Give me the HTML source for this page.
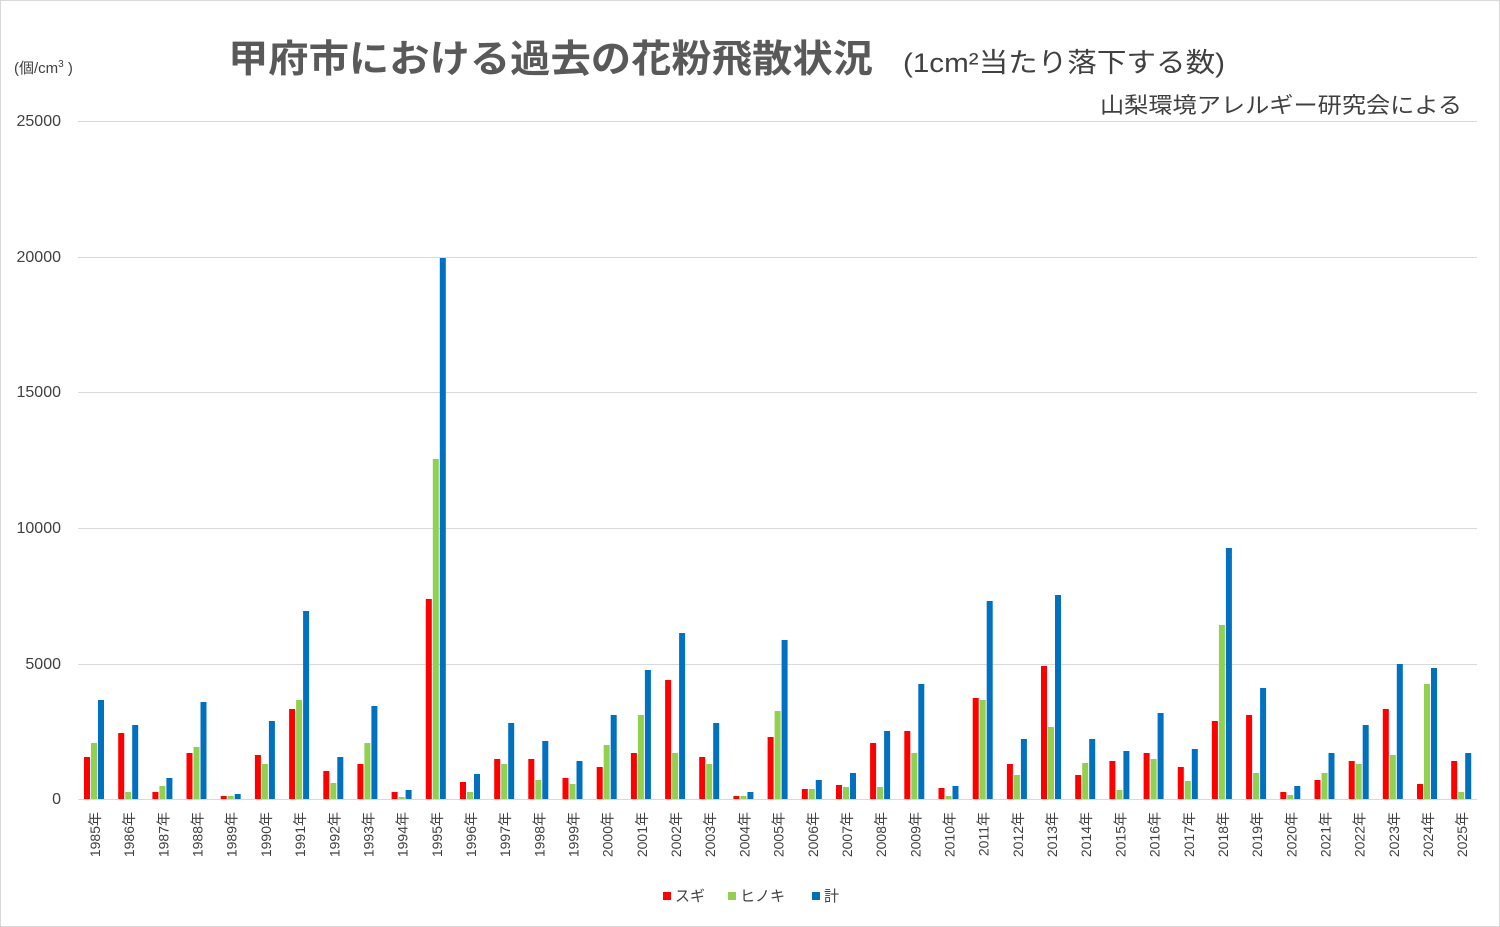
<!DOCTYPE html>
<html><head><meta charset="utf-8"><style>
body{margin:0;background:#fff}
svg{display:block;font-family:"Liberation Sans","Noto Sans CJK JP",sans-serif}
.r{fill:#ff0000}.g{fill:#92d050}.b{fill:#0070c0}
.yl{font-size:16px;fill:#404040}
.xl{font-size:14px;fill:#404040}
</style></head><body>
<svg width="1500" height="927" viewBox="0 0 1500 927">
<rect x="0.5" y="0.5" width="1499" height="926" fill="#fff" stroke="#d9d9d9"/>
<text x="14" y="73" font-size="15" fill="#404040">(個/cm<tspan font-size="10" dy="-6">3</tspan><tspan dy="6"> )</tspan></text>
<text x="228" y="72" font-size="38" font-weight="bold" fill="#595959" textLength="645" lengthAdjust="spacingAndGlyphs">甲府市における過去の花粉飛散状況</text>
<text x="903" y="72" font-size="27" fill="#404040" textLength="322" lengthAdjust="spacingAndGlyphs">(1cm²当たり落下する数)</text>
<text x="1100" y="113" font-size="22" fill="#404040" textLength="362" lengthAdjust="spacingAndGlyphs">山梨環境アレルギー研究会による</text>
<g stroke="#d9d9d9" stroke-width="1">
<line x1="78" y1="121.5" x2="1477" y2="121.5"/><line x1="78" y1="257.5" x2="1477" y2="257.5"/><line x1="78" y1="392.5" x2="1477" y2="392.5"/><line x1="78" y1="528.5" x2="1477" y2="528.5"/><line x1="78" y1="664.5" x2="1477" y2="664.5"/><line x1="78" y1="799.5" x2="1477" y2="799.5"/>
</g>
<g class="yl" text-anchor="end">
<text x="61" y="126">25000</text><text x="61" y="262">20000</text><text x="61" y="397">15000</text><text x="61" y="533">10000</text><text x="61" y="669">5000</text><text x="61" y="804">0</text>
</g>
<g class="xl">
<g transform="translate(95,0)"><rect class="r" x="-11" y="757" width="6" height="42"/><rect class="g" x="-4" y="743" width="6" height="56"/><rect class="b" x="3" y="700" width="6" height="99"/><text transform="translate(5,812) rotate(-90)" text-anchor="end">1985年</text></g>
<g transform="translate(129.2,0)"><rect class="r" x="-11" y="733" width="6" height="66"/><rect class="g" x="-4" y="792" width="6" height="7"/><rect class="b" x="3" y="725" width="6" height="74"/><text transform="translate(5,812) rotate(-90)" text-anchor="end">1986年</text></g>
<g transform="translate(163.4,0)"><rect class="r" x="-11" y="792" width="6" height="7"/><rect class="g" x="-4" y="786" width="6" height="13"/><rect class="b" x="3" y="778" width="6" height="21"/><text transform="translate(5,812) rotate(-90)" text-anchor="end">1987年</text></g>
<g transform="translate(197.5,0)"><rect class="r" x="-11" y="753" width="6" height="46"/><rect class="g" x="-4" y="747" width="6" height="52"/><rect class="b" x="3" y="702" width="6" height="97"/><text transform="translate(5,812) rotate(-90)" text-anchor="end">1988年</text></g>
<g transform="translate(231.7,0)"><rect class="r" x="-11" y="796" width="6" height="3"/><rect class="g" x="-4" y="796" width="6" height="3"/><rect class="b" x="3" y="794" width="6" height="5"/><text transform="translate(5,812) rotate(-90)" text-anchor="end">1989年</text></g>
<g transform="translate(265.9,0)"><rect class="r" x="-11" y="755" width="6" height="44"/><rect class="g" x="-4" y="764" width="6" height="35"/><rect class="b" x="3" y="721" width="6" height="78"/><text transform="translate(5,812) rotate(-90)" text-anchor="end">1990年</text></g>
<g transform="translate(300.1,0)"><rect class="r" x="-11" y="709" width="6" height="90"/><rect class="g" x="-4" y="700" width="6" height="99"/><rect class="b" x="3" y="611" width="6" height="188"/><text transform="translate(5,812) rotate(-90)" text-anchor="end">1991年</text></g>
<g transform="translate(334.3,0)"><rect class="r" x="-11" y="771" width="6" height="28"/><rect class="g" x="-4" y="783" width="6" height="16"/><rect class="b" x="3" y="757" width="6" height="42"/><text transform="translate(5,812) rotate(-90)" text-anchor="end">1992年</text></g>
<g transform="translate(368.4,0)"><rect class="r" x="-11" y="764" width="6" height="35"/><rect class="g" x="-4" y="743" width="6" height="56"/><rect class="b" x="3" y="706" width="6" height="93"/><text transform="translate(5,812) rotate(-90)" text-anchor="end">1993年</text></g>
<g transform="translate(402.6,0)"><rect class="r" x="-11" y="792" width="6" height="7"/><rect class="g" x="-4" y="797" width="6" height="2"/><rect class="b" x="3" y="790" width="6" height="9"/><text transform="translate(5,812) rotate(-90)" text-anchor="end">1994年</text></g>
<g transform="translate(436.8,0)"><rect class="r" x="-11" y="599" width="6" height="200"/><rect class="g" x="-4" y="459" width="6" height="340"/><rect class="b" x="3" y="258" width="6" height="541"/><text transform="translate(5,812) rotate(-90)" text-anchor="end">1995年</text></g>
<g transform="translate(471,0)"><rect class="r" x="-11" y="782" width="6" height="17"/><rect class="g" x="-4" y="792" width="6" height="7"/><rect class="b" x="3" y="774" width="6" height="25"/><text transform="translate(5,812) rotate(-90)" text-anchor="end">1996年</text></g>
<g transform="translate(505.2,0)"><rect class="r" x="-11" y="759" width="6" height="40"/><rect class="g" x="-4" y="764" width="6" height="35"/><rect class="b" x="3" y="723" width="6" height="76"/><text transform="translate(5,812) rotate(-90)" text-anchor="end">1997年</text></g>
<g transform="translate(539.3,0)"><rect class="r" x="-11" y="759" width="6" height="40"/><rect class="g" x="-4" y="780" width="6" height="19"/><rect class="b" x="3" y="741" width="6" height="58"/><text transform="translate(5,812) rotate(-90)" text-anchor="end">1998年</text></g>
<g transform="translate(573.5,0)"><rect class="r" x="-11" y="778" width="6" height="21"/><rect class="g" x="-4" y="784" width="6" height="15"/><rect class="b" x="3" y="761" width="6" height="38"/><text transform="translate(5,812) rotate(-90)" text-anchor="end">1999年</text></g>
<g transform="translate(607.7,0)"><rect class="r" x="-11" y="767" width="6" height="32"/><rect class="g" x="-4" y="745" width="6" height="54"/><rect class="b" x="3" y="715" width="6" height="84"/><text transform="translate(5,812) rotate(-90)" text-anchor="end">2000年</text></g>
<g transform="translate(641.9,0)"><rect class="r" x="-11" y="753" width="6" height="46"/><rect class="g" x="-4" y="715" width="6" height="84"/><rect class="b" x="3" y="670" width="6" height="129"/><text transform="translate(5,812) rotate(-90)" text-anchor="end">2001年</text></g>
<g transform="translate(676.1,0)"><rect class="r" x="-11" y="680" width="6" height="119"/><rect class="g" x="-4" y="753" width="6" height="46"/><rect class="b" x="3" y="633" width="6" height="166"/><text transform="translate(5,812) rotate(-90)" text-anchor="end">2002年</text></g>
<g transform="translate(710.2,0)"><rect class="r" x="-11" y="757" width="6" height="42"/><rect class="g" x="-4" y="764" width="6" height="35"/><rect class="b" x="3" y="723" width="6" height="76"/><text transform="translate(5,812) rotate(-90)" text-anchor="end">2003年</text></g>
<g transform="translate(744.4,0)"><rect class="r" x="-11" y="796" width="6" height="3"/><rect class="g" x="-4" y="796" width="6" height="3"/><rect class="b" x="3" y="792" width="6" height="7"/><text transform="translate(5,812) rotate(-90)" text-anchor="end">2004年</text></g>
<g transform="translate(778.6,0)"><rect class="r" x="-11" y="737" width="6" height="62"/><rect class="g" x="-4" y="711" width="6" height="88"/><rect class="b" x="3" y="640" width="6" height="159"/><text transform="translate(5,812) rotate(-90)" text-anchor="end">2005年</text></g>
<g transform="translate(812.8,0)"><rect class="r" x="-11" y="789" width="6" height="10"/><rect class="g" x="-4" y="789" width="6" height="10"/><rect class="b" x="3" y="780" width="6" height="19"/><text transform="translate(5,812) rotate(-90)" text-anchor="end">2006年</text></g>
<g transform="translate(847,0)"><rect class="r" x="-11" y="785" width="6" height="14"/><rect class="g" x="-4" y="787" width="6" height="12"/><rect class="b" x="3" y="773" width="6" height="26"/><text transform="translate(5,812) rotate(-90)" text-anchor="end">2007年</text></g>
<g transform="translate(881.1,0)"><rect class="r" x="-11" y="743" width="6" height="56"/><rect class="g" x="-4" y="787" width="6" height="12"/><rect class="b" x="3" y="731" width="6" height="68"/><text transform="translate(5,812) rotate(-90)" text-anchor="end">2008年</text></g>
<g transform="translate(915.3,0)"><rect class="r" x="-11" y="731" width="6" height="68"/><rect class="g" x="-4" y="753" width="6" height="46"/><rect class="b" x="3" y="684" width="6" height="115"/><text transform="translate(5,812) rotate(-90)" text-anchor="end">2009年</text></g>
<g transform="translate(949.5,0)"><rect class="r" x="-11" y="788" width="6" height="11"/><rect class="g" x="-4" y="796" width="6" height="3"/><rect class="b" x="3" y="786" width="6" height="13"/><text transform="translate(5,812) rotate(-90)" text-anchor="end">2010年</text></g>
<g transform="translate(983.7,0)"><rect class="r" x="-11" y="698" width="6" height="101"/><rect class="g" x="-4" y="700" width="6" height="99"/><rect class="b" x="3" y="601" width="6" height="198"/><text transform="translate(5,812) rotate(-90)" text-anchor="end">2011年</text></g>
<g transform="translate(1017.9,0)"><rect class="r" x="-11" y="764" width="6" height="35"/><rect class="g" x="-4" y="775" width="6" height="24"/><rect class="b" x="3" y="739" width="6" height="60"/><text transform="translate(5,812) rotate(-90)" text-anchor="end">2012年</text></g>
<g transform="translate(1052,0)"><rect class="r" x="-11" y="666" width="6" height="133"/><rect class="g" x="-4" y="727" width="6" height="72"/><rect class="b" x="3" y="595" width="6" height="204"/><text transform="translate(5,812) rotate(-90)" text-anchor="end">2013年</text></g>
<g transform="translate(1086.2,0)"><rect class="r" x="-11" y="775" width="6" height="24"/><rect class="g" x="-4" y="763" width="6" height="36"/><rect class="b" x="3" y="739" width="6" height="60"/><text transform="translate(5,812) rotate(-90)" text-anchor="end">2014年</text></g>
<g transform="translate(1120.4,0)"><rect class="r" x="-11" y="761" width="6" height="38"/><rect class="g" x="-4" y="790" width="6" height="9"/><rect class="b" x="3" y="751" width="6" height="48"/><text transform="translate(5,812) rotate(-90)" text-anchor="end">2015年</text></g>
<g transform="translate(1154.6,0)"><rect class="r" x="-11" y="753" width="6" height="46"/><rect class="g" x="-4" y="759" width="6" height="40"/><rect class="b" x="3" y="713" width="6" height="86"/><text transform="translate(5,812) rotate(-90)" text-anchor="end">2016年</text></g>
<g transform="translate(1188.8,0)"><rect class="r" x="-11" y="767" width="6" height="32"/><rect class="g" x="-4" y="781" width="6" height="18"/><rect class="b" x="3" y="749" width="6" height="50"/><text transform="translate(5,812) rotate(-90)" text-anchor="end">2017年</text></g>
<g transform="translate(1222.9,0)"><rect class="r" x="-11" y="721" width="6" height="78"/><rect class="g" x="-4" y="625" width="6" height="174"/><rect class="b" x="3" y="548" width="6" height="251"/><text transform="translate(5,812) rotate(-90)" text-anchor="end">2018年</text></g>
<g transform="translate(1257.1,0)"><rect class="r" x="-11" y="715" width="6" height="84"/><rect class="g" x="-4" y="773" width="6" height="26"/><rect class="b" x="3" y="688" width="6" height="111"/><text transform="translate(5,812) rotate(-90)" text-anchor="end">2019年</text></g>
<g transform="translate(1291.3,0)"><rect class="r" x="-11" y="792" width="6" height="7"/><rect class="g" x="-4" y="795" width="6" height="4"/><rect class="b" x="3" y="786" width="6" height="13"/><text transform="translate(5,812) rotate(-90)" text-anchor="end">2020年</text></g>
<g transform="translate(1325.5,0)"><rect class="r" x="-11" y="780" width="6" height="19"/><rect class="g" x="-4" y="773" width="6" height="26"/><rect class="b" x="3" y="753" width="6" height="46"/><text transform="translate(5,812) rotate(-90)" text-anchor="end">2021年</text></g>
<g transform="translate(1359.7,0)"><rect class="r" x="-11" y="761" width="6" height="38"/><rect class="g" x="-4" y="764" width="6" height="35"/><rect class="b" x="3" y="725" width="6" height="74"/><text transform="translate(5,812) rotate(-90)" text-anchor="end">2022年</text></g>
<g transform="translate(1393.8,0)"><rect class="r" x="-11" y="709" width="6" height="90"/><rect class="g" x="-4" y="755" width="6" height="44"/><rect class="b" x="3" y="664" width="6" height="135"/><text transform="translate(5,812) rotate(-90)" text-anchor="end">2023年</text></g>
<g transform="translate(1428,0)"><rect class="r" x="-11" y="784" width="6" height="15"/><rect class="g" x="-4" y="684" width="6" height="115"/><rect class="b" x="3" y="668" width="6" height="131"/><text transform="translate(5,812) rotate(-90)" text-anchor="end">2024年</text></g>
<g transform="translate(1462.2,0)"><rect class="r" x="-11" y="761" width="6" height="38"/><rect class="g" x="-4" y="792" width="6" height="7"/><rect class="b" x="3" y="753" width="6" height="46"/><text transform="translate(5,812) rotate(-90)" text-anchor="end">2025年</text></g>
</g>
<g font-size="15" fill="#404040">
<rect x="663" y="892" width="8" height="8" fill="#ff0000"/><text x="675" y="901">スギ</text>
<rect x="728" y="892" width="8" height="8" fill="#92d050"/><text x="740" y="901">ヒノキ</text>
<rect x="812" y="892" width="8" height="8" fill="#0070c0"/><text x="824" y="901">計</text>
</g>
</svg>
</body></html>
